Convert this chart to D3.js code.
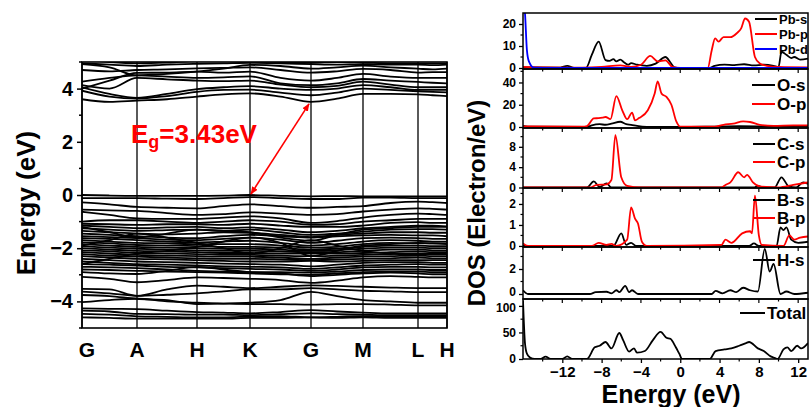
<!DOCTYPE html>
<html lang="en">
<head>
    <meta charset="UTF-8">
    <title>Band structure and DOS</title>
    <style>
        body { margin: 0; background: #fff; }
        svg { display: block; font-family: Arial, "Liberation Sans", sans-serif; font-weight: bold; }
    </style>
</head>
<body>
    <svg id="chart" width="810" height="407"></svg>
    <script src="https://d3js.org/d3.v7.min.js"></script>
    <script>
    // high symmetry path
    const kLabels = ["G", "A", "H", "K", "G", "M", "L", "H"];
    const kPos = [0, 0.55, 1.15, 1.68, 2.29, 2.81, 3.36, 3.65];
    const eTicks = [-4, -2, 0, 2, 4];

    // bands: energies at G,.,A,.,H,.,K,.,G,.,M,.,L,.,H (dots = half way)
    const condBands = [
        [3.6, 3.5, 3.55, 3.6, 3.7, 3.78, 3.82, 3.7, 3.5, 3.62, 3.8, 3.8, 3.78, 3.75, 3.72],
        [3.92, 3.7, 3.62, 3.72, 3.88, 3.95, 3.96, 3.85, 3.75, 3.85, 4.0, 3.95, 3.9, 3.88, 3.86],
        [4.05, 3.8, 3.65, 3.8, 3.98, 4.05, 4.09, 4.0, 3.95, 4.0, 4.13, 4.05, 3.95, 3.95, 3.95],
        [4.13, 4.0, 4.4, 4.35, 4.3, 4.28, 4.3, 4.15, 4.05, 4.1, 4.26, 4.15, 4.05, 4.05, 4.05],
        [4.26, 4.4, 4.5, 4.45, 4.4, 4.42, 4.46, 4.2, 4.13, 4.2, 4.36, 4.3, 4.25, 4.22, 4.2],
        [4.0, 4.3, 4.59, 4.6, 4.64, 4.6, 4.64, 4.4, 4.3, 4.4, 4.55, 4.45, 4.4, 4.4, 4.4],
        [4.7, 4.65, 4.7, 4.72, 4.76, 4.78, 4.8, 4.7, 4.6, 4.65, 4.74, 4.7, 4.6, 4.62, 4.62],
        [4.92, 4.8, 4.5, 4.55, 4.64, 4.75, 4.89, 4.85, 4.75, 4.8, 4.86, 4.8, 4.75, 4.72, 4.75],
        [4.95, 4.9, 4.85, 4.9, 4.93, 4.95, 4.97, 4.95, 4.92, 4.9, 4.92, 4.9, 4.9, 4.88, 4.9],
        [5.1, 5.0, 4.95, 4.98, 5.05, 5.1, 5.05, 5.0, 4.97, 5.0, 4.98, 4.95, 4.95, 4.95, 4.95]
    ];

    const valBands = [
        [0.0, -0.02, -0.03, -0.03, -0.03, -0.02, 0.0, -0.03, -0.05, -0.04, -0.05, -0.05, -0.05, -0.05, -0.05],
        [-0.12, -0.12, -0.12, -0.14, -0.15, -0.12, -0.08, -0.12, -0.15, -0.15, -0.1, -0.1, -0.12, -0.12, -0.12],
        [-0.28, -0.35, -0.45, -0.48, -0.5, -0.42, -0.35, -0.42, -0.48, -0.45, -0.42, -0.3, -0.25, -0.27, -0.3],
        [-0.55, -0.58, -0.6, -0.68, -0.75, -0.72, -0.65, -0.7, -0.75, -0.72, -0.62, -0.55, -0.5, -0.52, -0.55],
        [-0.63, -0.75, -0.88, -0.9, -0.9, -0.85, -0.8, -0.88, -1.05, -0.98, -0.85, -0.75, -0.7, -0.72, -0.75],
        [-1.0, -0.95, -0.95, -1.0, -1.05, -1.0, -0.95, -1.0, -1.12, -1.1, -1.0, -0.95, -0.9, -0.9, -0.9],
        [-1.08, -1.1, -1.12, -1.1, -1.1, -1.12, -1.08, -1.15, -1.2, -1.2, -1.15, -1.05, -1.02, -1.05, -1.05],
        [-1.15, -1.2, -1.25, -1.22, -1.2, -1.25, -1.22, -1.3, -1.4, -1.35, -1.25, -1.2, -1.15, -1.15, -1.18],
        [-1.25, -1.3, -1.35, -1.32, -1.3, -1.35, -1.3, -1.4, -1.5, -1.45, -1.38, -1.3, -1.28, -1.28, -1.3],
        [-1.35, -1.4, -1.45, -1.48, -1.45, -1.4, -1.42, -1.5, -1.58, -1.5, -1.45, -1.4, -1.4, -1.42, -1.42],
        [-1.45, -1.5, -1.55, -1.6, -1.62, -1.55, -1.5, -1.55, -1.6, -1.55, -1.52, -1.5, -1.52, -1.52, -1.55],
        [-1.55, -1.58, -1.62, -1.68, -1.7, -1.65, -1.6, -1.68, -1.8, -1.72, -1.62, -1.6, -1.62, -1.65, -1.65],
        [-1.62, -1.65, -1.7, -1.75, -1.78, -1.75, -1.72, -1.8, -1.9, -1.85, -1.75, -1.7, -1.72, -1.75, -1.75],
        [-1.7, -1.75, -1.8, -1.82, -1.85, -1.85, -1.85, -1.9, -1.98, -1.95, -1.85, -1.8, -1.82, -1.82, -1.85],
        [-1.78, -1.82, -1.88, -1.9, -1.92, -1.95, -1.95, -1.98, -2.05, -2.02, -1.95, -1.9, -1.9, -1.92, -1.92],
        [-1.85, -1.9, -1.95, -1.98, -2.0, -2.02, -2.02, -2.05, -2.1, -2.08, -2.02, -1.98, -1.98, -2.0, -2.0],
        [-1.92, -1.98, -2.02, -2.05, -2.08, -2.1, -2.1, -2.12, -2.15, -2.15, -2.1, -2.05, -2.05, -2.08, -2.08],
        [-2.0, -2.05, -2.1, -2.12, -2.15, -2.18, -2.18, -2.2, -2.2, -2.2, -2.18, -2.15, -2.12, -2.15, -2.15],
        [-2.08, -2.12, -2.18, -2.2, -2.22, -2.25, -2.25, -2.28, -2.3, -2.28, -2.25, -2.22, -2.2, -2.22, -2.22],
        [-2.15, -2.2, -2.25, -2.28, -2.3, -2.32, -2.32, -2.35, -2.4, -2.35, -2.32, -2.3, -2.28, -2.3, -2.3],
        [-2.22, -2.28, -2.32, -2.35, -2.38, -2.4, -2.4, -2.42, -2.45, -2.42, -2.4, -2.38, -2.35, -2.38, -2.38],
        [-2.3, -2.35, -2.4, -2.42, -2.45, -2.48, -2.5, -2.5, -2.48, -2.5, -2.48, -2.45, -2.45, -2.45, -2.45],
        [-2.4, -2.45, -2.5, -2.52, -2.55, -2.58, -2.6, -2.62, -2.68, -2.62, -2.55, -2.52, -2.52, -2.55, -2.55],
        [-2.5, -2.55, -2.6, -2.62, -2.65, -2.68, -2.7, -2.72, -2.78, -2.72, -2.65, -2.62, -2.6, -2.62, -2.62],
        [-2.6, -2.62, -2.65, -2.7, -2.72, -2.75, -2.78, -2.8, -2.85, -2.8, -2.72, -2.7, -2.7, -2.72, -2.72],
        [-2.7, -2.72, -2.75, -2.8, -2.85, -2.88, -2.9, -2.9, -2.92, -2.88, -2.82, -2.8, -2.8, -2.82, -2.82],
        [-2.8, -2.82, -2.85, -2.88, -2.9, -2.92, -2.95, -2.98, -3.0, -2.95, -2.9, -2.88, -2.88, -2.9, -2.9],
        [-2.9, -2.95, -2.97, -2.85, -2.7, -2.8, -2.9, -2.95, -3.05, -3.0, -2.95, -2.92, -2.95, -2.98, -2.98],
        [-3.08, -3.15, -3.28, -3.2, -3.1, -3.12, -3.15, -3.2, -3.3, -3.22, -3.1, -3.05, -3.08, -3.1, -3.1],
        [-3.53, -3.55, -3.79, -3.55, -3.41, -3.45, -3.5, -3.45, -3.4, -3.42, -3.45, -3.48, -3.5, -3.5, -3.5],
        [-3.63, -3.7, -3.79, -3.75, -3.7, -3.62, -3.55, -3.55, -3.5, -3.55, -3.6, -3.62, -3.65, -3.65, -3.65],
        [-3.76, -3.8, -3.9, -3.95, -4.1, -4.08, -4.05, -3.95, -3.64, -3.8, -3.95, -4.0, -4.05, -4.05, -4.05],
        [-4.03, -3.95, -3.9, -4.0, -4.05, -4.08, -4.1, -4.1, -4.12, -4.1, -4.1, -4.12, -4.15, -4.15, -4.15],
        [-4.26, -4.28, -4.29, -4.35, -4.4, -4.42, -4.45, -4.4, -4.33, -4.38, -4.42, -4.45, -4.45, -4.45, -4.45],
        [-4.35, -4.38, -4.47, -4.48, -4.5, -4.5, -4.52, -4.48, -4.45, -4.48, -4.5, -4.52, -4.52, -4.52, -4.52],
        [-4.47, -4.5, -4.56, -4.58, -4.6, -4.6, -4.57, -4.55, -4.6, -4.58, -4.55, -4.55, -4.58, -4.58, -4.58],
        [-4.6, -4.62, -4.65, -4.65, -4.65, -4.65, -4.62, -4.62, -4.6, -4.62, -4.6, -4.62, -4.62, -4.62, -4.62],
        [-1.9, -1.7, -1.45, -1.6, -1.8, -2.0, -2.2, -2.0, -1.7, -1.9, -2.1, -2.2, -2.25, -2.2, -2.2],
        [-2.6, -2.4, -2.2, -2.1, -1.95, -1.75, -1.6, -1.8, -2.3, -2.1, -1.9, -1.85, -1.8, -1.82, -1.82],
        [-1.2, -1.4, -1.6, -1.45, -1.3, -1.35, -1.4, -1.6, -1.72, -1.5, -1.3, -1.25, -1.2, -1.2, -1.2]
    ];

    // gap arrow: VBM at K, CBM at G
    const gapFrom = [1.68, 0];
    const gapTo = [2.29, 3.5];

    // DOS curves, [energy (eV), states]
    const pbS = [[-16,0.3],[-12.2,0.2],[-11.5,1],[-10.8,0],[-9.6,0],[-9,6],[-8.3,12],[-7.6,3.6],[-7.2,3.2],[-6.8,4],[-6.5,3],[-6.1,3.8],[-5.7,2.5],[-5.3,1.5],[-5,2.2],[-4.4,1.5],[-3.4,1],[-2.5,2],[-1.5,5],[-1,2.5],[-0.6,0.3],[0,0],[3,0.1],[3.5,1],[4.5,1.5],[5.5,1.3],[6.5,1.7],[7.5,1.2],[8.5,1.5],[9.5,1],[10,0.5],[10.3,7.4],[10.8,6],[11.3,4.5],[11.6,5],[12.2,3.8],[13,4.3]];
    const pbP = [[-16,0.5],[-14,0.3],[-10,0.2],[-8,0.5],[-6.1,1.2],[-5,0.5],[-4,1.5],[-3.05,5.5],[-2.3,3],[-1.5,3.5],[-0.8,0.5],[0,0],[2.8,0],[3.2,8],[3.55,13.5],[3.9,12],[4.4,14],[5.1,14],[5.8,16],[6.2,18],[6.6,22.5],[7.0,21],[7.6,5],[8.1,2],[8.8,1],[10,0.5],[13,0.3]];
    const pbD = [[-16,32],[-15.8,25],[-15.6,8],[-15.4,3],[-14.9,0.2],[-13,0],[13,0]];
    const oS = [[-16,1],[-15.5,0.3],[-9.5,0],[-9,1.5],[-8.2,2.5],[-7.6,2],[-7,3],[-6.1,4.7],[-5.5,2.5],[-5,2],[-4.4,1],[-3.4,0.2],[0,0],[3,0.3],[6,0.8],[9,0.5],[13,0.3]];
    const oP = [[-16,0.5],[-10,0.3],[-9.5,0.8],[-8.8,7.7],[-8.3,8],[-7.9,8.5],[-7.6,9],[-7.1,7],[-6.5,27.8],[-5.9,15],[-5.4,7],[-4.9,13],[-4.6,6],[-4.2,8],[-3.3,15],[-2.6,30],[-2.3,41],[-1.9,30],[-1.4,27],[-0.9,20],[-0.4,5],[0,0.3],[3.5,0.3],[4.4,2],[5.4,3],[6.4,5],[7.1,4.5],[8.1,2],[9.5,1],[11.5,1.5],[13,1.5]];
    const cS = [[-16,0],[-9.5,0],[-8.8,1.2],[-8.2,0.1],[-7.5,0.8],[-7,0],[7.5,0],[7.9,0.3],[8.5,0],[9.6,0],[10.3,2.0],[11,0.3],[11.8,0],[12.5,1],[13,0.7]];
    const cP = [[-16,0],[-9.2,0],[-8.5,0.5],[-7.5,0.6],[-7.0,1.5],[-6.6,10.3],[-6.0,2],[-5.4,0.3],[-4,0],[4.2,0],[4.6,0.5],[5.1,1],[5.9,3],[6.5,2],[6.8,2.5],[7.4,1],[8.1,0.2],[10,0],[11.5,0.5],[13,1]];
    const bS = [[-16,0],[-6.8,0],[-6.0,0.6],[-5.5,0.05],[-5.0,0.15],[-4.5,0],[7,0],[7.5,0.12],[8,0],[9.8,0],[10.2,0.88],[10.5,0.75],[10.8,0.88],[11.3,0.3],[12,0.15],[13,0.2]];
    const bP = [[-16,0.12],[-15.5,0],[-9,0],[-8.3,0.15],[-7.5,0.05],[-7,0.1],[-6.5,0],[-5.4,0.3],[-5.0,1.84],[-4.6,1.3],[-4.3,1.07],[-3.9,0.2],[-3.4,0],[4.2,0.05],[4.6,0.3],[5.2,0.15],[6.3,0.6],[7.1,0.7],[7.3,0.6],[7.6,2.4],[8.0,0.5],[8.3,0.05],[10.5,0],[11.1,0.5],[11.6,0.3],[12.2,0.4],[13,0.45]];
    const hS = [[-16,0.3],[-15.5,0],[-9.2,0],[-8.6,0.15],[-7.5,0.18],[-7,0.05],[-6.5,0.3],[-6.2,0.15],[-5.6,0.65],[-5.2,0.15],[-4.9,0.3],[-4.3,0],[3.2,0],[3.6,0.25],[4.3,0.05],[5.1,0.3],[5.7,0.15],[6.4,0.5],[7.1,0.3],[7.9,0.2],[8.6,3.6],[9.1,1.8],[9.5,2.4],[10.2,0],[10.8,0.2],[11.6,0],[13,0.1]];
    const totalDos = [[-16,110],[-15.8,30],[-15.6,10],[-15.3,3],[-14.8,0],[-14.2,0],[-13.7,4.4],[-13.2,0],[-12,0],[-11.5,5],[-11,0],[-9.5,0],[-8.7,22],[-8.2,25],[-7.6,32],[-7.0,20],[-6.2,49],[-5.8,35],[-5.2,14],[-4.7,20],[-4.4,12],[-3.6,15],[-2.8,35],[-2.0,51],[-1.4,40],[-1.0,38],[-0.45,22],[-0.1,10],[0.2,0],[3.0,0],[3.6,15],[4.5,18],[5.2,20],[6.0,25],[6.7,30],[7.0,32],[7.9,20],[8.5,15],[9.2,5],[9.6,2],[9.9,0],[10.5,18],[10.9,22],[11.3,15],[11.9,25],[12.3,20],[13,30]];

    const dosTicks = [-12, -8, -4, 0, 4, 8, 12];

    const svg = d3.select("#chart");

    // ---------- band structure ----------
    const band = {left: 82, right: 447, top: 62, bottom: 328};
    const kx = d3.scaleLinear().domain([0, kPos[kPos.length - 1]]).range([band.left, band.right]);
    const ey = d3.scaleLinear().domain([-5, 5]).range([band.bottom, band.top]);

    // k grid with half way points
    let kGrid = [];
    kPos.forEach((k, i) => {
        kGrid.push(k);
        if (i < kPos.length - 1) kGrid.push((k + kPos[i + 1]) / 2);
    });

    svg.append("clipPath").attr("id", "bandClip")
        .append("rect")
        .attr("x", band.left).attr("y", band.top)
        .attr("width", band.right - band.left).attr("height", band.bottom - band.top);

    let bandLine = d3.line()
        .curve(d3.curveMonotoneX)
        .x((_, i) => kx(kGrid[i]))
        .y(d => ey(d));

    svg.append("g").attr("clip-path", "url(#bandClip)")
        .selectAll("path")
        .data(condBands.concat(valBands))
        .join("path")
        .attr("d", bandLine)
        .attr("fill", "none")
        .attr("stroke", "#000")
        .attr("stroke-width", 1.8);

    svg.append("g").selectAll("line")
        .data(kPos)
        .join("line")
        .attr("x1", d => kx(d)).attr("x2", d => kx(d))
        .attr("y1", band.top).attr("y2", band.bottom)
        .attr("stroke", "#000").attr("stroke-width", 1.3);

    svg.append("rect")
        .attr("x", band.left).attr("y", band.top)
        .attr("width", band.right - band.left).attr("height", band.bottom - band.top)
        .attr("fill", "none").attr("stroke", "#000").attr("stroke-width", 1.6);

    let eAxis = d3.axisLeft(ey).tickValues(eTicks).tickSize(5).tickPadding(4).tickFormat(d3.format("d"));
    let eAxisG = svg.append("g").attr("transform", `translate(${band.left},0)`).call(eAxis);
    eAxisG.select(".domain").remove();
    eAxisG.selectAll("line").attr("stroke-width", 1.5);
    eAxisG.selectAll("text").attr("font-size", 20).attr("font-family", null).attr("fill", "#000");
    svg.append("g").selectAll("line")
        .data(d3.range(-5, 6, 2))
        .join("line")
        .attr("x1", band.left - 3).attr("x2", band.left)
        .attr("y1", d => ey(d)).attr("y2", d => ey(d))
        .attr("stroke", "#000").attr("stroke-width", 1.5);

    svg.append("g").selectAll("text")
        .data(kLabels)
        .join("text")
        .attr("x", (d, i) => kx(kPos[i]) + (i === 0 ? 5 : 0))
        .attr("y", 357)
        .attr("text-anchor", "middle")
        .attr("font-size", 21)
        .text(d => d);

    svg.append("text")
        .attr("transform", `translate(35,${(band.top + band.bottom) / 2 + 8}) rotate(-90)`)
        .attr("text-anchor", "middle")
        .attr("font-size", 26)
        .text("Energy (eV)");

    // gap arrow
    let defs = svg.append("defs");
    defs.append("marker").attr("id", "arrowEnd")
        .attr("viewBox", "0 0 10 10").attr("refX", 9).attr("refY", 5)
        .attr("markerWidth", 5).attr("markerHeight", 5).attr("orient", "auto")
        .append("path").attr("d", "M0,1 L10,5 L0,9 Z").attr("fill", "red");
    defs.append("marker").attr("id", "arrowStart")
        .attr("viewBox", "0 0 10 10").attr("refX", 1).attr("refY", 5)
        .attr("markerWidth", 5).attr("markerHeight", 5).attr("orient", "auto")
        .append("path").attr("d", "M10,1 L0,5 L10,9 Z").attr("fill", "red");

    svg.append("line")
        .attr("x1", kx(gapFrom[0]) + 1).attr("y1", ey(gapFrom[1]) - 1)
        .attr("x2", kx(gapTo[0]) - 2).attr("y2", ey(gapTo[1]) + 2)
        .attr("stroke", "red").attr("stroke-width", 1.6)
        .attr("marker-start", "url(#arrowStart)")
        .attr("marker-end", "url(#arrowEnd)");

    let eg = svg.append("text").attr("x", 131).attr("y", 143)
        .attr("fill", "red").attr("font-size", 26);
    eg.append("tspan").text("E");
    eg.append("tspan").attr("font-size", 18).attr("dy", 5).text("g");
    eg.append("tspan").attr("dy", -5).text("=3.43eV");

    // ---------- DOS panels ----------
    const dos = {left: 523, right: 808};
    const ex = d3.scaleLinear().domain([-16, 13]).range([dos.left, dos.right]);

    // nudge: small vertical shift of tick labels that would touch a neighbour panel's label
    const panels = [
        {top: 13, bottom: 69, domain: [-0.45, 25], ticks: [0, 10, 20], minor: 5,
         series: [{d: pbS, c: "#000", name: "Pb-s"}, {d: pbP, c: "#ff0000", name: "Pb-p"}, {d: pbD, c: "#0000ff", name: "Pb-d"}],
         legend: {x: 755, ys: [19, 34, 49], len: 22, size: 13}},
        {top: 69, bottom: 128, domain: [-0.9, 52.1], ticks: [0, 20, 40], minor: 10,
         series: [{d: oS, c: "#000", name: "O-s"}, {d: oP, c: "#ff0000", name: "O-p"}],
         legend: {x: 752, ys: [85, 104], len: 23, size: 17}},
        {top: 128, bottom: 188, domain: [-0.1, 11.7], ticks: [0, 4, 8], minor: 2,
         series: [{d: cS, c: "#000", name: "C-s"}, {d: cP, c: "#ff0000", name: "C-p"}],
         legend: {x: 753, ys: [144, 162], len: 22, size: 17}},
        {top: 188, bottom: 247, domain: [-0.05, 2.76], ticks: [0, 1, 2], minor: 0.5,
         series: [{d: bS, c: "#000", name: "B-s"}, {d: bP, c: "#ff0000", name: "B-p"}],
         legend: {x: 753, ys: [200, 218], len: 22, size: 17}},
        {top: 247, bottom: 299, domain: [-0.4, 3.76], ticks: [0, 2], minor: 1, nudge: {0: -2},
         series: [{d: hS, c: "#000", name: "H-s"}],
         legend: {x: 753, ys: [260], len: 22, size: 17}},
        {top: 299, bottom: 359, domain: [0, 113], ticks: [0, 50, 100], minor: 25, nudge: {100: 2},
         series: [{d: totalDos, c: "#000", name: "Total"}],
         legend: {x: 740, ys: [313], len: 25, size: 17}}
    ];

    let dosLine = d3.line().curve(d3.curveMonotoneX);

    panels.forEach((p, pi) => {
        let py = d3.scaleLinear().domain(p.domain).range([p.bottom, p.top]);
        let g = svg.append("g");
        let clipId = "dosClip" + pi;
        g.append("clipPath").attr("id", clipId)
            .append("rect")
            .attr("x", dos.left).attr("y", p.top)
            .attr("width", dos.right - dos.left).attr("height", p.bottom - p.top);

        dosLine.x(d => ex(d[0])).y(d => py(d[1]));
        g.append("g").attr("clip-path", `url(#${clipId})`)
            .selectAll("path")
            .data(p.series)
            .join("path")
            .attr("d", s => dosLine(s.d))
            .attr("fill", "none")
            .attr("stroke", s => s.c)
            .attr("stroke-width", 1.8);

        // legend
        p.series.forEach((s, si) => {
            let ly = p.legend.ys[si];
            g.append("line")
                .attr("x1", p.legend.x).attr("x2", p.legend.x + p.legend.len)
                .attr("y1", ly).attr("y2", ly)
                .attr("stroke", s.c).attr("stroke-width", 2);
            g.append("text")
                .attr("x", p.legend.x + p.legend.len + 2).attr("y", ly)
                .attr("dy", "0.36em")
                .attr("font-size", p.legend.size)
                .text(s.name);
        });

        // y axis
        let yAxis = d3.axisLeft(py).tickValues(p.ticks).tickSize(4).tickPadding(3).tickFormat(d3.format("d"));
        let ya = g.append("g").attr("transform", `translate(${dos.left},0)`).call(yAxis);
        ya.select(".domain").remove();
        ya.selectAll("line").attr("stroke-width", 1.3);
        ya.selectAll("text").attr("font-size", 12).attr("font-family", null).attr("fill", "#000")
            .attr("y", d => (p.nudge && p.nudge[d]) || 0);
        let minorY = d3.range(0, p.domain[1], p.minor).filter(v => p.ticks.indexOf(v) < 0);
        g.selectAll(".minorY").data(minorY).join("line")
            .attr("x1", dos.left - 2.5).attr("x2", dos.left)
            .attr("y1", d => py(d)).attr("y2", d => py(d))
            .attr("stroke", "#000").attr("stroke-width", 1.2);

        // top edge ticks (inward)
        if (pi > 0) {
            g.selectAll(".topTick").data(d3.range(-14, 13, 2)).join("line")
                .attr("x1", d => ex(d)).attr("x2", d => ex(d))
                .attr("y1", p.top).attr("y2", d => p.top + (d % 4 === 0 ? 4 : 2.5))
                .attr("stroke", "#000").attr("stroke-width", 1.2);
        }

        // frame
        g.append("rect")
            .attr("x", dos.left).attr("y", p.top)
            .attr("width", dos.right - dos.left).attr("height", p.bottom - p.top)
            .attr("fill", "none").attr("stroke", "#000").attr("stroke-width", 1.5);
    });

    // energy axis at bottom of last panel
    let lastBottom = panels[panels.length - 1].bottom;
    let xAxis = d3.axisBottom(ex).tickValues(dosTicks).tickSize(4).tickPadding(3).tickFormat(d3.format("d"));
    let xa = svg.append("g").attr("transform", `translate(0,${lastBottom})`).call(xAxis);
    xa.select(".domain").remove();
    xa.selectAll("line").attr("stroke-width", 1.3);
    xa.selectAll("text").attr("font-size", 15).attr("font-family", null).attr("fill", "#000");
    svg.append("g").selectAll("line")
        .data(d3.range(-14, 13, 4))
        .join("line")
        .attr("x1", d => ex(d)).attr("x2", d => ex(d))
        .attr("y1", lastBottom).attr("y2", lastBottom + 2.5)
        .attr("stroke", "#000").attr("stroke-width", 1.2);

    svg.append("text")
        .attr("x", 671).attr("y", 403)
        .attr("text-anchor", "middle")
        .attr("font-size", 25)
        .text("Energy (eV)");

    svg.append("text")
        .attr("transform", `translate(485,203) rotate(-90)`)
        .attr("text-anchor", "middle")
        .attr("font-size", 24)
        .text("DOS (Electron/eV)");
    </script>
</body>
</html>
